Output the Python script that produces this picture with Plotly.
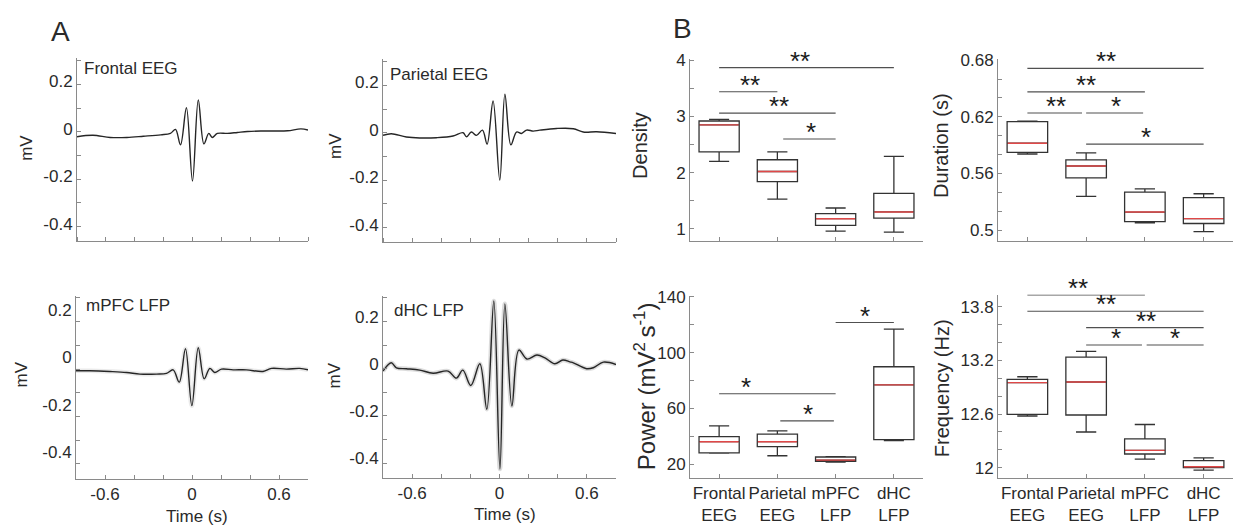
import plotly.graph_objects as go

W, H = 1236, 531
FONT = "Arial, Liberation Sans, sans-serif"
AX = "#8a8a8a"
TXT = "#2a2a2a"
TRACE = "#262626"
MED = "#e04848"

# ---------------- Panel A: mean spindle traces (time in s, amplitude in mV) ----------------
frontal_t = [-0.8, -0.69, -0.57, -0.455, -0.34, -0.22, -0.153, -0.118, -0.083, -0.042, 0.0,
             0.04, 0.079, 0.113, 0.137, 0.172, 0.241, 0.311, 0.381, 0.473, 0.56, 0.659, 0.751, 0.8]
frontal_v = [-0.021, -0.015, -0.024, -0.024, -0.019, -0.013, -0.007, 0.010, -0.055, 0.101, -0.208,
             0.134, -0.051, -0.007, -0.024, -0.007, -0.007, -0.003, 0.001, 0.003, 0.003, 0.004, 0.012, 0.007]

parietal_t = [-0.8, -0.743, -0.64, -0.548, -0.433, -0.319, -0.25, -0.227, -0.193, -0.158, -0.117,
              -0.085, -0.044, 0.002, 0.037, 0.078, 0.117, 0.151, 0.186, 0.232, 0.277, 0.392, 0.507,
              0.575, 0.667, 0.8]
parietal_v = [-0.011, -0.004, -0.018, -0.022, -0.021, -0.014, 0.0, -0.017, 0.003, -0.011, 0.011,
              -0.048, 0.134, -0.2, 0.163, -0.051, 0.003, -0.003, 0.011, 0.007, 0.011, 0.018, 0.017,
              0.003, 0.004, -0.003]

mpfc_t = [-0.8, -0.704, -0.566, -0.451, -0.359, -0.244, -0.176, -0.13, -0.088, -0.045, -0.001,
          0.043, 0.084, 0.123, 0.157, 0.203, 0.284, 0.375, 0.49, 0.548, 0.651, 0.743, 0.8]
mpfc_v = [-0.007, -0.007, -0.010, -0.014, -0.021, -0.021, -0.018, -0.003, -0.055, 0.086, -0.154,
          0.090, -0.041, 0.003, -0.014, 0.0, -0.003, -0.003, -0.010, 0.003, 0.0, 0.003, -0.003]

dhc_t = [-0.8, -0.743, -0.708, -0.64, -0.548, -0.456, -0.353, -0.296, -0.252, -0.197, -0.135,
         -0.087, -0.039, 0.003, 0.037, 0.085, 0.133, 0.188, 0.257, 0.312, 0.38, 0.435, 0.484,
         0.507, 0.598, 0.644, 0.713, 0.8]
dhc_v = [-0.01, 0.025, 0.004, 0.0, -0.006, -0.019, -0.010, -0.040, -0.006, -0.071, 0.021,
         -0.172, 0.287, -0.425, 0.275, -0.158, 0.079, 0.041, 0.058, 0.046, 0.021, 0.037, 0.029,
         0.025, 0.0, 0.004, 0.028, 0.018]

trace_titles = ["Frontal EEG", "Parietal EEG", "mPFC LFP", "dHC LFP"]
time_ticks = [-0.6, 0, 0.6]
time_ticktext = ["-0.6", "0", "0.6"]
time_minor = [-0.8, -0.6, -0.4, -0.2, 0, 0.2, 0.4, 0.6, 0.8]
mv_ticks = [-0.4, -0.2, 0, 0.2]
mv_ticktext = ["-0.4", "-0.2", "0", "0.2"]

# ---------------- Panel B: box plot statistics ----------------
categories = ["Frontal<br>EEG", "Parietal<br>EEG", "mPFC<br>LFP", "dHC<br>LFP"]
positions = [1, 2, 3, 4]

density_low = [2.20, 1.53, 0.96, 0.94]
density_q1 = [2.37, 1.84, 1.06, 1.19]
density_med = [2.85, 2.02, 1.18, 1.30]
density_q3 = [2.92, 2.23, 1.27, 1.63]
density_high = [2.95, 2.37, 1.37, 2.29]

duration_low = [0.5806, 0.5357, 0.5077, 0.4983]
duration_q1 = [0.5824, 0.5554, 0.5090, 0.5070]
duration_med = [0.5920, 0.5679, 0.5191, 0.5122]
duration_q3 = [0.6150, 0.5744, 0.5402, 0.5343]
duration_high = [0.6155, 0.5817, 0.5436, 0.5385]

power_low = [28.0, 26.1, 21.6, 36.9]
power_q1 = [28.2, 32.7, 22.1, 37.6]
power_med = [36.2, 36.2, 23.0, 76.9]
power_q3 = [39.8, 41.6, 25.2, 89.9]
power_high = [47.5, 44.0, 25.4, 116.9]

freq_low = [12.578, 12.399, 12.095, 11.974]
freq_q1 = [12.596, 12.589, 12.153, 12.000]
freq_med = [12.951, 12.958, 12.194, 12.011]
freq_q3 = [12.988, 13.237, 12.322, 12.080]
freq_high = [13.017, 13.300, 12.483, 12.110]

# significance bars: (x start, x end, level, label, label x)
density_sig = [(1, 4, 3.87, "**", 2.385), (1, 2, 3.44, "**", 1.527),
               (1, 3, 3.06, "**", 2.03), (2.1, 3, 2.60, "*", 2.574)]
duration_sig = [(1, 4, 0.6713, "**", 2.343), (1, 3, 0.6464, "**", 2.0),
                (1, 1.93, 0.624, "**", 1.486), (2.0, 2.97, 0.624, "*", 2.503),
                (2, 4, 0.5911, "*", 3.011)]
power_sig = [(3, 4, 121.6, "*", 3.5), (1, 3, 70.6, "*", 1.458), (2.05, 2.97, 51.1, "*", 2.528)]
freq_sig = [(1, 3, 13.93, "**", 1.857), (1, 4, 13.749, "**", 2.343), (2, 4, 13.566, "**", 3.011),
            (2, 2.95, 13.372, "*", 2.514), (3.03, 4, 13.372, "*", 3.514)]

BOX_W = 0.69

fig = go.Figure()


def dom_x(a, b):
    return [a / W, b / W]


def dom_y(top, bot):
    return [1 - bot / H, 1 - top / H]


common = dict(showline=True, linecolor=AX, linewidth=1, ticks="inside", ticklen=4,
              tickcolor=AX, tickwidth=1, showgrid=False, zeroline=False,
              tickfont=dict(family=FONT, size=17, color=TXT), fixedrange=True)


def minor_only(vals):
    # axis with unlabelled tick marks only
    return dict(tickmode="array", tickvals=[], ticks="",
                minor=dict(tickmode="array", tickvals=vals, ticks="inside", ticklen=4,
                           tickcolor=AX, tickwidth=1))


# ---- A panels ----
a_specs = [
    (frontal_t, frontal_v, dom_x(77, 308), dom_y(51, 237), False, -3, 0),
    (parietal_t, parietal_v, dom_x(383, 616), dom_y(52, 238), False, -3, 0),
    (mpfc_t, mpfc_v, dom_x(76, 308), dom_y(292, 478), True, -12, 0.18),
    (dhc_t, dhc_v, dom_x(383, 616), dom_y(292, 477), True, -5, 0.3),
]
layout_axes = {}
for i, (t, v, dx, dy, lab, shift, band) in enumerate(a_specs):
    n = i + 1
    xn = "x" if n == 1 else f"x{n}"
    yn = "y" if n == 1 else f"y{n}"
    if band > 0:
        fig.add_trace(go.Scatter(x=t, y=v, mode="lines", xaxis=xn, yaxis=yn,
                                 line=dict(color=f"rgba(140,140,140,{band})", width=4.5, shape="spline"),
                                 hoverinfo="skip"))
    fig.add_trace(go.Scatter(x=t, y=v, mode="lines", xaxis=xn, yaxis=yn,
                             line=dict(color=TRACE, width=1.4, shape="spline", smoothing=1.0)))
    if lab:
        xa = dict(common, domain=dx, anchor=yn, range=[-0.8, 0.8], tickmode="array",
                  tickvals=time_ticks, ticktext=time_ticktext,
                  minor=dict(tickmode="array", tickvals=time_minor, ticks="inside",
                             ticklen=4, tickcolor=AX))
    else:
        xa = dict(common, domain=dx, anchor=yn, range=[-0.8, 0.8])
        xa.update(minor_only(time_minor))
    ya = dict(common, domain=dy, anchor=xn, range=[-0.4625, 0.31], tickmode="array",
              tickvals=mv_ticks, ticktext=mv_ticktext, ticklabelshift=shift,
              minor=dict(tick0=0, dtick=0.1, ticks="inside", ticklen=4, tickcolor=AX))
    layout_axes["xaxis" if n == 1 else f"xaxis{n}"] = xa
    layout_axes["yaxis" if n == 1 else f"yaxis{n}"] = ya

# ---- B panels ----
b_specs = [
    (5, density_low, density_q1, density_med, density_q3, density_high, density_sig,
     dom_x(690, 923), dom_y(52, 237), [0.775, 4.02], [1, 2, 3, 4], ["1", "2", "3", "4"], 0.5, False),
    (6, duration_low, duration_q1, duration_med, duration_q3, duration_high, duration_sig,
     dom_x(998, 1233), dom_y(52, 237), [0.488, 0.681], [0.5, 0.56, 0.62, 0.68],
     ["0.5", "0.56", "0.62", "0.68"], 0.02, False),
    (7, power_low, power_q1, power_med, power_q3, power_high, power_sig,
     dom_x(690, 923), dom_y(292, 477), [10.3, 140.9], [20, 60, 100, 140],
     ["20", "60", "100", "140"], 20, True),
    (8, freq_low, freq_q1, freq_med, freq_q3, freq_high, freq_sig,
     dom_x(998, 1233), dom_y(291, 477), [11.887, 13.935], [12, 12.6, 13.2, 13.8],
     ["12", "12.6", "13.2", "13.8"], 0.2, True),
]
shapes = []
annotations = []
for (n, lo, q1, med, q3, hi, sig, dx, dy, yr, tv, tt, minor_dt, lab) in b_specs:
    xn, yn = f"x{n}", f"y{n}"
    fig.add_trace(go.Box(x=positions, q1=q1, median=med, q3=q3, lowerfence=lo, upperfence=hi,
                         xaxis=xn, yaxis=yn, width=BOX_W, whiskerwidth=0.5, boxpoints=False,
                         fillcolor="rgba(255,255,255,0)", line=dict(color="#333333", width=1.3)))
    mx, my = [], []
    for p, m in zip(positions, med):
        mx += [p - BOX_W / 2 + 0.01, p + BOX_W / 2 - 0.01, None]
        my += [m, m, None]
    fig.add_trace(go.Scatter(x=mx, y=my, mode="lines", xaxis=xn, yaxis=yn,
                             line=dict(color=MED, width=1.4), hoverinfo="skip"))
    if lab:
        xa = dict(common, domain=dx, anchor=yn, range=[0.5, 4.5], tickmode="array",
                  tickvals=positions, ticktext=categories)
    else:
        xa = dict(common, domain=dx, anchor=yn, range=[0.5, 4.5])
        xa.update(minor_only(positions))
    layout_axes[f"xaxis{n}"] = xa
    layout_axes[f"yaxis{n}"] = dict(common, domain=dy, anchor=xn, range=yr, tickmode="array",
                                    tickvals=tv, ticktext=tt,
                                    minor=dict(tick0=tv[0], dtick=minor_dt, ticks="inside",
                                               ticklen=4, tickcolor=AX))
    for (x0, x1, yv, label, lx) in sig:
        shapes.append(dict(type="line", xref=xn, yref=yn, x0=x0, x1=x1, y0=yv, y1=yv,
                           line=dict(color="#505050", width=1.1)))
        annotations.append(dict(xref=xn, yref=yn, x=lx, y=yv, text=label, showarrow=False,
                                xanchor="center", yanchor="middle", yshift=7,
                                font=dict(family=FONT, size=26, color="#1a1a1a")))


def ann(text, px, py, size, angle=0, xanchor="center"):
    annotations.append(dict(xref="paper", yref="paper", x=px / W, y=1 - py / H, text=text,
                            showarrow=False, textangle=angle, xanchor=xanchor, yanchor="middle",
                            font=dict(family=FONT, size=size, color=TXT)))


ann("A", 60, 24, 28)
ann("B", 682, 21, 28)
ann(trace_titles[0], 82, 61, 17, xanchor="left")
ann(trace_titles[1], 388, 68, 17, xanchor="left")
ann(trace_titles[2], 84, 302, 17, xanchor="left")
ann(trace_titles[3], 392, 307, 17, xanchor="left")
for (px, py) in [(27, 142), (336, 140), (21, 372), (334, 373)]:
    ann("mV", px, py, 17, angle=-90)
ann("Time (s)", 197, 516, 17)
ann("Time (s)", 505, 514, 17)
ann("Density", 640, 140, 20, angle=-90)
ann("Duration (s)", 941, 140, 20, angle=-90)
ann("Power (mV<sup>2 </sup>s<sup>-1</sup>)", 645, 384, 24, angle=-90)
ann("Frequency (Hz)", 942, 386, 20, angle=-90)

fig.update_layout(width=W, height=H, margin=dict(l=0, r=0, t=0, b=0), showlegend=False,
                  paper_bgcolor="white", plot_bgcolor="white", shapes=shapes,
                  annotations=annotations, font=dict(family=FONT, color=TXT), **layout_axes)

fig.write_html("out.html")
